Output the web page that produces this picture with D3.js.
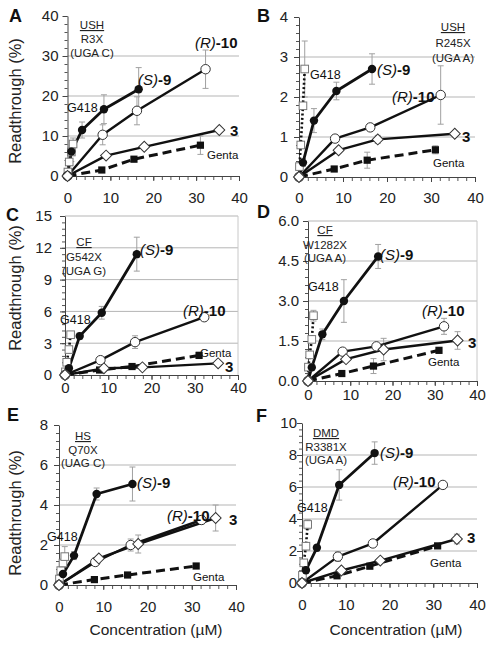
<!DOCTYPE html>
<html><head><meta charset="utf-8">
<script src="https://cdn.jsdelivr.net/npm/d3@7"></script>
<style>body{margin:0;background:#fff} svg{display:block;font-family:"Liberation Sans",Arial,sans-serif}</style>
</head><body><svg id="c" width="493" height="647"></svg>
<script>
// ---------- DATA ----------
const panelIds = ["A","B","C","D","E","F"];
const mutationGene  = ["USH","USH","CF","CF","HS","DMD"];
const mutationName  = ["R3X","R245X","G542X","W1282X","Q70X","R3381X"];
const mutationCodon = ["(UGA C)","(UGA A)","(UGA G)","(UGA A)","(UAG C)","(UGA A)"];
const yMax  = [40, 4, 15, 6, 8, 10];
const yTickLabels = [
  ["0","10","20","30","40"],
  ["0","1","2","3","4"],
  ["0","3","6","9","12","15"],
  ["0.0","1.5","3.0","4.5","6.0"],
  ["0","2","4","6","8"],
  ["0","2","4","6","8","10"]
];
const xTickLabels = ["0","10","20","30","40"];

// concentrations (µM)
const s9Conc    = [0, 0.9, 3.4, 8.5, 16.6];
const r10Conc   = [0, 8.2, 16.2, 32.2];
const cmpd3Conc = [0, 9, 17.9, 35.4];
const gentaConc = [0, 8, 15.5, 31];
const g418Conc  = [0, 0.1, 0.4, 0.9, 1.3];

// readthrough (%) per panel A..F
const s9Values = [
  [0, 6.1, 11.5, 16.7, 21.7],
  [0, 0.36, 1.41, 2.15, 2.7],
  [0, 0.63, 3.67, 5.87, 11.4],
  [0, 0.51, 1.75, 3.0, 4.67],
  [0, 0.55, 1.47, 4.55, 5.05],
  [0, 0.8, 2.2, 6.13, 8.12]
];
const s9Err = [
  [0, 2.5, 2.0, 3.6, 5.4],
  [0, 0.1, 0.3, 0.22, 0.38],
  [0, 0.2, 0.3, 0.6, 1.6],
  [0, 0.1, 0.2, 0.8, 0.45],
  [0, 0.1, 0.2, 0.3, 0.85],
  [0, 0.1, 0.2, 0.95, 0.7]
];
const r10Values = [
  [0, 10.3, 16.3, 26.7],
  [0, 0.96, 1.24, 2.05],
  [0, 1.4, 3.1, 5.45],
  [0, 1.1, 1.3, 2.05],
  [0, 1.15, 2.0, 3.25],
  [0, 1.65, 2.47, 6.13]
];
const r10Err = [
  [0, 2.5, 3.5, 4.8],
  [0, 0.05, 0.05, 0.73],
  [0, 0.2, 0.6, 0.2],
  [0, 0.05, 0.05, 0.3],
  [0, 0.1, 0.3, 0.2],
  [0, 0.3, 0.1, 0.1]
];
const cmpd3Values = [
  [0, 5.1, 7.3, 11.5],
  [0, 0.67, 0.94, 1.08],
  [0, 0.63, 0.72, 1.1],
  [0, 0.82, 1.18, 1.52],
  [0, 1.33, 2.05, 3.35],
  [0, 0.78, 1.4, 2.75]
];
const cmpd3Err = [
  [0, 0.5, 0.5, 0.5],
  [0, 0.03, 0.1, 0.05],
  [0, 0.1, 0.1, 0.1],
  [0, 0.05, 0.42, 0.33],
  [0, 0.1, 0.45, 0.65],
  [0, 0.1, 0.1, 0.3]
];
const gentaValues = [
  [0, 1.5, 4.2, 7.7],
  [0, 0.2, 0.42, 0.68],
  [0, 0.47, 0.8, 1.85],
  [0, 0.28, 0.56, 1.15],
  [0, 0.27, 0.5, 0.95],
  [0, 0.45, 1.05, 2.32]
];
const gentaErr = [
  [0, 0.3, 0.5, 2.3],
  [0, 0.03, 0.2, 0.1],
  [0, 0.1, 0.1, 0.3],
  [0, 0.05, 0.28, 0.1],
  [0, 0, 0, 0],
  [0, 0.05, 0.1, 0.1]
];
const g418Values = [
  [0, 1.0, 3.5, 6.0, 8.0],
  [0, 0.26, 0.8, 1.78, 2.7],
  [0, 0.3, 1.2, 2.4, 3.8],
  [0, 0.52, 0.98, 1.56, 2.45],
  [0, 0.3, 0.72, 1.1, 1.42],
  [0, 0.48, 1.26, 2.3, 3.66]
];
const g418Err = [
  [0, 0, 0, 0, 1.5],
  [0, 0, 0, 0, 0.7],
  [0, 0, 0, 0, 0.3],
  [0, 0, 0, 0, 0.2],
  [0, 0, 0, 0, 0.5],
  [0, 0, 0, 0, 0.3]
];

// ---------- LAYOUT ----------
const layout = [
  {left:67.5, right:239, top:16, bottom:176, yPad:9, xLab:27, letter:[9,22], border:false,
   mut:[24.5,13,26.5,41], s9:[70.5,69], r10:[127.5,32], g418:[-0.5,96], c3:[162.5,120], genta:[139.5,143]},
  {left:299, right:475, top:17, bottom:177, yPad:11, xLab:26, letter:[257,22], border:false,
   mut:[154,14,30,45], s9:[78,58], r10:[93,85], g418:[11,62], c3:[163,125], genta:[134,150]},
  {left:65, right:238, top:216, bottom:375, yPad:13, xLab:18, letter:[6,221], border:true,
   mut:[19,30,44.5,59], s9:[75,39], r10:[118,100], g418:[-5,108], c3:[160,156], genta:[135,141]},
  {left:308, right:477, top:221, bottom:381, yPad:9, xLab:19, letter:[257,218], border:true,
   mut:[17,13,27.5,41], s9:[72,39], r10:[114,95], g418:[0,70], c3:[160,127], genta:[120,145]},
  {left:59, right:236, top:425, bottom:585, yPad:11, xLab:27, letter:[7,421], border:false,
   mut:[24,15,28.5,42], s9:[78,63], r10:[108,96], g418:[-12,116], c3:[170,100], genta:[134,156]},
  {left:302, right:477, top:423, bottom:583, yPad:5, xLab:27, letter:[256,422], border:false,
   mut:[24,14,27.5,41], s9:[78,35], r10:[91,64], g418:[-5,89], c3:[165,120], genta:[128,144]}
];

const svg = d3.select("#c");
svg.append("rect").attr("width",493).attr("height",647).attr("fill","#fff");

function drawErr(g, x, y, xs, ys, es, color) {
  xs.forEach((c,k)=>{
    const e = es[k]; if (!e) return;
    const cx = x(c), y1 = y(ys[k]-e), y2 = y(ys[k]+e);
    g.append("line").attr("x1",cx).attr("x2",cx).attr("y1",y1).attr("y2",y2).attr("stroke",color).attr("stroke-width",1);
    [y1,y2].forEach(yy=>g.append("line").attr("x1",cx-3).attr("x2",cx+3).attr("y1",yy).attr("y2",yy).attr("stroke",color).attr("stroke-width",1));
  });
}
function drawLine(g, x, y, xs, ys, width, dash) {
  const line = d3.line().x(d=>x(d[0])).y(d=>y(d[1]));
  g.append("path").datum(xs.map((c,k)=>[c,ys[k]])).attr("d",line)
    .attr("fill","none").attr("stroke","#111").attr("stroke-width",width)
    .attr("stroke-dasharray",dash||null).attr("stroke-linejoin","round");
}
function drawMarkers(g, x, y, xs, ys, kind) {
  xs.forEach((c,k)=>{
    const px = x(c), py = y(ys[k]);
    if (kind==="fcircle") g.append("circle").attr("cx",px).attr("cy",py).attr("r",4.2).attr("fill","#111");
    else if (kind==="ocircle") g.append("circle").attr("cx",px).attr("cy",py).attr("r",4.7).attr("fill","#fff").attr("stroke","#333").attr("stroke-width",1);
    else if (kind==="diamond") g.append("path").attr("d",d3.symbol(d3.symbolSquare,60)()).attr("transform",`translate(${px},${py}) rotate(45)`).attr("fill","#fff").attr("stroke","#333").attr("stroke-width",1);
    else if (kind==="fsquare") g.append("rect").attr("x",px-3.6).attr("y",py-3.6).attr("width",7.2).attr("height",7.2).attr("fill","#111");
    else if (kind==="osquare") g.append("rect").attr("x",px-3.8).attr("y",py-3.8).attr("width",7.6).attr("height",7.6).attr("fill","#fff").attr("stroke","#777").attr("stroke-width",1);
  });
}

panelIds.forEach((id,i)=>{
  const L = layout[i];
  const x = d3.scaleLinear().domain([0,40]).range([L.left,L.right]);
  const y = d3.scaleLinear().domain([0,yMax[i]]).range([L.bottom,L.top]);
  const g = svg.append("g");
  const majors = yTickLabels[i].map(Number);

  // gridlines
  g.selectAll(null).data(majors.filter(v=>v>0 && (v<yMax[i] || L.border))).join("line")
    .attr("x1",L.left).attr("x2",L.right).attr("y1",d=>y(d)).attr("y2",d=>y(d))
    .attr("stroke","#b5b5b5").attr("stroke-width",1);
  if (L.border) g.append("line").attr("x1",L.right).attr("x2",L.right).attr("y1",L.top).attr("y2",L.bottom).attr("stroke","#c8c8c8");

  // minor ticks
  const step = majors[1]-majors[0];
  const yMinor = d3.range(0, yMax[i]+1e-9, step/5);
  g.append("g").attr("transform",`translate(${L.left},0)`)
    .call(d3.axisLeft(y).tickValues(yMinor).tickSize(3).tickFormat(""))
    .call(a=>a.select(".domain").remove()).selectAll("line").attr("stroke","#555");
  const xMinor = d3.range(0, 40.01, 2);
  g.append("g").attr("transform",`translate(0,${L.bottom})`)
    .call(d3.axisBottom(x).tickValues(xMinor).tickSize(4).tickFormat(""))
    .call(a=>a.select(".domain").remove()).selectAll("line").attr("stroke","#555");

  // main axes
  const ya = g.append("g").attr("transform",`translate(${L.left},0)`)
    .call(d3.axisLeft(y).tickValues(majors).tickSize(5).tickSizeOuter(0).tickPadding(L.yPad-5)
      .tickFormat((d,k)=>yTickLabels[i][k]));
  ya.select(".domain").attr("stroke","#444");
  ya.selectAll("line").attr("stroke","#444");
  ya.selectAll("text").attr("font-size",15).attr("fill","#222").attr("font-family","Liberation Sans, Arial, sans-serif");
  const xa = g.append("g").attr("transform",`translate(0,${L.bottom})`)
    .call(d3.axisBottom(x).tickValues([0,10,20,30,40]).tickSize(5).tickSizeOuter(0)
      .tickFormat((d,k)=>xTickLabels[k]));
  xa.select(".domain").attr("stroke","#444");
  xa.selectAll("line").attr("stroke","#444");
  xa.selectAll("text").attr("font-size",15).attr("fill","#222").attr("font-family","Liberation Sans, Arial, sans-serif")
    .attr("y",L.xLab).attr("dy",0);

  // error bars
  const ec = "#a0a0a0";
  drawErr(g,x,y,g418Conc,g418Values[i],g418Err[i],ec);
  drawErr(g,x,y,gentaConc,gentaValues[i],gentaErr[i],ec);
  drawErr(g,x,y,s9Conc,s9Values[i],s9Err[i],ec);
  drawErr(g,x,y,r10Conc,r10Values[i],r10Err[i],ec);
  drawErr(g,x,y,cmpd3Conc,cmpd3Values[i],cmpd3Err[i],ec);

  // lines
  drawLine(g,x,y,g418Conc,g418Values[i],2.6,"2,2.4");
  drawLine(g,x,y,gentaConc,gentaValues[i],3,"9,5");
  drawLine(g,x,y,s9Conc,s9Values[i],2.8);
  drawLine(g,x,y,r10Conc,r10Values[i],2.4);
  drawLine(g,x,y,cmpd3Conc,cmpd3Values[i],2.4);

  // markers
  drawMarkers(g,x,y,g418Conc.slice(1),g418Values[i].slice(1),"osquare");
  drawMarkers(g,x,y,gentaConc,gentaValues[i],"fsquare");
  drawMarkers(g,x,y,s9Conc,s9Values[i],"fcircle");
  drawMarkers(g,x,y,r10Conc,r10Values[i],"ocircle");
  drawMarkers(g,x,y,cmpd3Conc,cmpd3Values[i],"diamond");

  // panel letter
  svg.append("text").attr("x",L.letter[0]).attr("y",L.letter[1]).text(id)
    .attr("font-size",18).attr("font-weight","bold").attr("fill","#111");

  // mutation block
  const m = L.mut, mx = L.left+m[0];
  svg.append("text").attr("x",mx).attr("y",L.top+m[1]).attr("text-anchor","middle")
    .attr("font-size",11.5).attr("fill","#222").attr("text-decoration","underline").text(mutationGene[i]);
  svg.append("text").attr("x",mx).attr("y",L.top+m[2]).attr("text-anchor","middle").attr("font-size",11.5).attr("fill","#222").text(mutationName[i]);
  svg.append("text").attr("x",mx).attr("y",L.top+m[3]).attr("text-anchor","middle").attr("font-size",11.5).attr("fill","#222").text(mutationCodon[i]);

  // series labels
  const lab = (pos, parts, size) => {
    const t = svg.append("text").attr("x",L.left+pos[0]).attr("y",L.top+pos[1]).attr("font-size",size).attr("fill","#111");
    parts.forEach(p=>t.append("tspan").text(p[0]).attr("font-style",p[1]?"italic":null).attr("font-weight",p[2]?"bold":null));
  };
  lab(L.s9, [["(S)",true,false],["-9",false,true]], 15);
  lab(L.r10, [["(R)",true,false],["-10",false,true]], 15);
  lab(L.c3, [["3",false,true]], 15);
  lab(L.g418, [["G418",false,false]], 12.5);
  lab(L.genta, [["Genta",false,false]], 11.5);
});

// axis titles
const yTitleCenters = [[15,101],[15,288],[15,513]];
yTitleCenters.forEach(c=>{
  svg.append("text").attr("transform",`translate(${c[0]},${c[1]}) rotate(-90)`).attr("text-anchor","middle")
    .attr("dy","0.35em").attr("font-size",16.5).attr("fill","#222").text("Readthrough (%)");
});
[[156,635],[396,635]].forEach(c=>{
  svg.append("text").attr("x",c[0]).attr("y",c[1]).attr("text-anchor","middle")
    .attr("font-size",15.5).attr("fill","#222").text("Concentration (µM)");
});
</script></body></html>
